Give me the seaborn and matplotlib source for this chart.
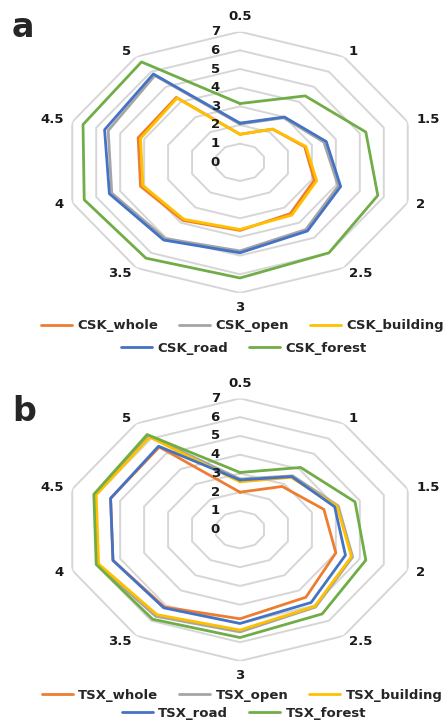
import numpy as np
import pandas as pd
import matplotlib
matplotlib.use("Agg")
import matplotlib.pyplot as plt
import seaborn as sns
from matplotlib.lines import Line2D

# Spoke labels (clockwise from the top) and radial ring levels
categories = ["0.5", "1", "1.5", "2", "2.5", "3", "3.5", "4", "4.5", "5"]
ring_levels = [1, 2, 3, 4, 5, 6, 7]
r_tick_labels = ["0", "1", "2", "3", "4", "5", "6", "7"]
classes = ["whole", "open", "building", "road", "forest"]

# Panel a: CSK
csk_whole = [1.5, 2.2, 2.7, 3.1, 3.4, 3.65, 3.85, 4.15, 4.25, 4.3]
csk_open = [2.05, 2.95, 3.5, 4.1, 4.45, 4.75, 5.05, 5.35, 5.5, 5.75]
csk_building = [1.5, 2.2, 2.75, 3.2, 3.5, 3.6, 3.78, 4.05, 4.15, 4.25]
csk_road = [2.1, 3.0, 3.6, 4.2, 4.55, 4.85, 5.15, 5.45, 5.65, 5.85]
csk_forest = [3.15, 4.4, 5.25, 5.75, 6.0, 6.2, 6.35, 6.5, 6.55, 6.65]

# Panel b: TSX
tsx_whole = [2.0, 2.85, 3.5, 4.0, 4.45, 4.75, 5.1, 5.3, 5.4, 5.45]
tsx_open = [2.7, 3.55, 4.1, 4.7, 5.1, 5.45, 5.7, 5.95, 6.05, 6.2]
tsx_building = [2.55, 3.45, 4.05, 4.65, 5.05, 5.35, 5.6, 5.9, 6.0, 6.1]
tsx_road = [2.65, 3.5, 3.95, 4.4, 4.8, 5.0, 5.15, 5.3, 5.4, 5.5]
tsx_forest = [3.05, 4.1, 4.8, 5.25, 5.55, 5.75, 5.9, 6.0, 6.1, 6.27]

colors = ["#ED7D31", "#A5A5A5", "#FFC000", "#4472C4", "#70AD47"]
grid_color = "#D6D6D6"

sns.set_style("white")
plt.rcParams["font.family"] = ["DejaVu Sans"]

LABEL_FS = 9.5


def draw_radar(ax, prefix, series):
    n = len(categories)
    theta = np.deg2rad(np.arange(n) * 360.0 / n)
    theta_closed = np.append(theta, theta[0])

    # decagonal grid rings
    for lvl in ring_levels:
        ax.plot(theta_closed, [lvl] * (n + 1), color=grid_color, lw=1.4, zorder=1)

    # long-form table of closed loops for seaborn
    rows = []
    names = [f"{prefix}_{c}" for c in classes]
    for name, vals in zip(names, series):
        closed = list(vals) + [vals[0]]
        for k, (t, v) in enumerate(zip(theta_closed, closed)):
            rows.append({"series": name, "step": k, "theta": t, "value": v})
    df = pd.DataFrame(rows)
    sns.lineplot(data=df, x="theta", y="value", hue="series", hue_order=names,
                 palette=dict(zip(names, colors)), sort=False, estimator=None,
                 lw=2.0, legend=False, ax=ax, zorder=3)

    ax.set_theta_zero_location("N")
    ax.set_theta_direction(-1)
    ax.set_ylim(0, 7)
    ax.set_aspect("auto")
    ax.grid(False)
    ax.set_xticks([])
    ax.set_yticks([])
    ax.spines["polar"].set_visible(False)
    ax.set_xlabel("")
    ax.set_ylabel("")

    # spoke labels
    for t, lab in zip(theta, categories):
        s, c = np.sin(t), np.cos(t)
        ha = "center" if abs(s) < 0.01 else ("left" if s > 0 else "right")
        if c > 0.99:
            va, r = "bottom", 7.45
        elif c < -0.99:
            va, r = "top", 7.45
        else:
            va, r = "center", 7.35
        ax.text(t, r, lab, ha=ha, va=va, fontsize=LABEL_FS, fontweight="bold",
                color="#1a1a1a", clip_on=False)

    # radial value labels along the top spoke
    for lvl, lab in zip(range(len(r_tick_labels)), r_tick_labels):
        ax.annotate(lab, xy=(0, lvl), xytext=(-14.5, 0), textcoords="offset points",
                    ha="right", va="center", fontsize=LABEL_FS, fontweight="bold",
                    color="#1a1a1a", annotation_clip=False, zorder=5)

    return names


def add_legend(fig, names, y_row1, y_row2):
    handles = [Line2D([0], [0], color=col, lw=2.0) for col in colors]
    kw = dict(loc="center", frameon=False, borderpad=0, borderaxespad=0,
              handlelength=2.35, handletextpad=0.4, columnspacing=1.6,
              prop={"weight": "bold", "size": 9.5})
    fig.legend(handles=handles[:3], labels=names[:3], ncol=3,
               bbox_to_anchor=(0.543, 1 - y_row1 / 722), **kw)
    fig.legend(handles=handles[3:], labels=names[3:], ncol=2,
               bbox_to_anchor=(0.547, 1 - y_row2 / 722), **kw)


fig = plt.figure(figsize=(4.46, 7.22), dpi=100)
fig.patch.set_facecolor("white")

ax_a = fig.add_axes([0.1426, 0.5943, 0.791, 0.3618], projection="polar")
names_a = draw_radar(ax_a, "CSK", [csk_whole, csk_open, csk_building, csk_road, csk_forest])
add_legend(fig, names_a, 325.7, 348.0)

ax_b = fig.add_axes([0.1426, 0.0845, 0.791, 0.3637], projection="polar")
names_b = draw_radar(ax_b, "TSX", [tsx_whole, tsx_open, tsx_building, tsx_road, tsx_forest])
add_legend(fig, names_b, 695.0, 713.5)

fig.text(12 / 446, 1 - 37 / 722, "a", fontsize=24, fontweight="bold", va="baseline", ha="left")
fig.text(12 / 446, 1 - 421 / 722, "b", fontsize=24, fontweight="bold", va="baseline", ha="left")

fig.savefig("out.png", dpi=100, facecolor="white")
